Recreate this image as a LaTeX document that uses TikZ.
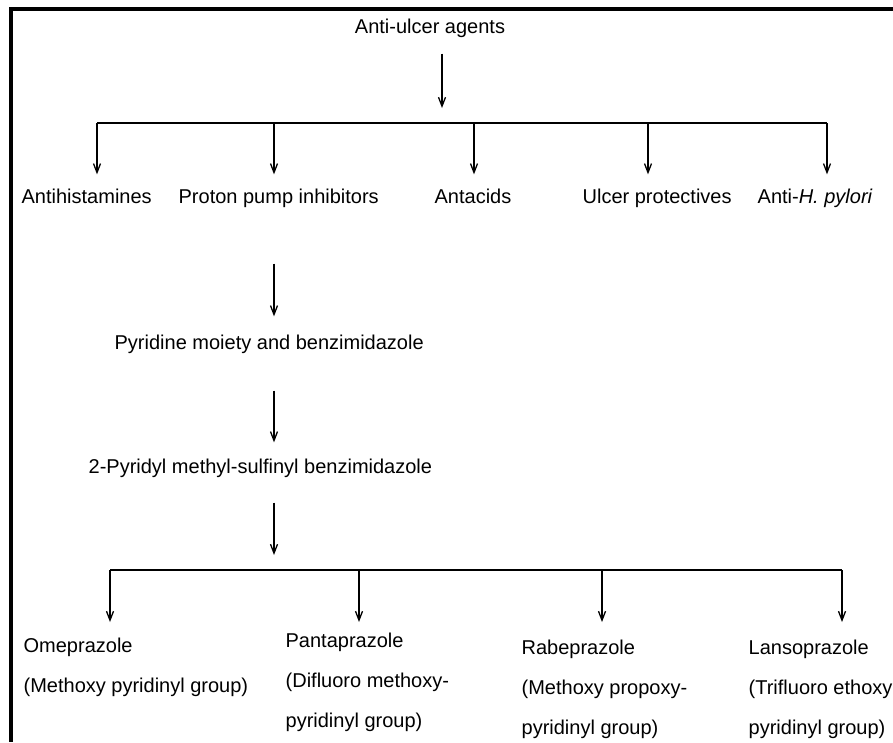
\documentclass[tikz,border=0pt]{standalone}
\usepackage{fontspec}
\setmainfont{Liberation Sans}
\usetikzlibrary{arrows.meta}

\begin{document}
\begin{tikzpicture}[x=1pt, y=-1pt, >={Straight Barb[length=9pt,width=7pt]}, line width=1.3pt,
  word/.style={inner sep=0pt, font=\fontsize{20}{40}\selectfont, text height=15pt, text depth=5pt},
  drug/.style={inner sep=0pt, font=\fontsize{20}{40}\selectfont, align=left, anchor=north west}]
\useasboundingbox (0,0) rectangle (893,742);
\draw[line width=3.5pt] (893,9)--(11,9)--(11,742);

\node[word, anchor=base] (agents) at (430,33){Anti-ulcer agents};
\coordinate (hubA) at (442,123);
\draw[->, shorten <=15pt, shorten >=15pt] (agents.south -| hubA)--(hubA);

% first level
\coordinate (j1) at (97,123);
\coordinate (j2) at (274,123);
\coordinate (j3) at (474,123);
\coordinate (j4) at (648,123);
\coordinate (j5) at (827,123);
\draw (j1)--(j5);
\node[word, anchor=base west] (antihist) at (21,203){Antihistamines};
\node[word, anchor=base west] (ppi) at (178,203){Proton pump inhibitors};
\node[word, anchor=base west] (antacid) at (434,203){Antacids};
\node[word, anchor=base west] (protect) at (582,203){Ulcer protectives};
\node[word, anchor=base west] (antihp) at (757,203){Anti-\textit{H. pylori}};
\foreach \j/\n in {j1/antihist, j2/ppi, j3/antacid, j4/protect, j5/antihp}
  \draw[->, shorten >=13pt] (\j)--(\j |- \n.north);

% chain below the proton pump inhibitors
\coordinate (axis) at (274,0);
\node[word, anchor=base west] (pyr) at (114,349){Pyridine moiety and benzimidazole};
\node[word, anchor=base west] (sulf) at (88,473){2-Pyridyl methyl-sulfinyl benzimidazole};
\coordinate (hubB) at (274,570);
\draw[->, shorten <=55pt, shorten >=17pt] (ppi.south -| axis)--(pyr.north -| axis);
\draw[->, shorten <=36pt, shorten >=15pt] (pyr.south -| axis)--(sulf.north -| axis);
\draw[->, shorten <=24pt, shorten >=15pt] (sulf.south -| axis)--(hubB);

% second level
\coordinate (k1) at (110,570);
\coordinate (k2) at (359,570);
\coordinate (k3) at (602,570);
\coordinate (k4) at (842,570);
\draw (k1)--(k4);
\node[drug] (omep) at (23,637){Omeprazole\\(Methoxy pyridinyl group)};
\node[drug] (panta) at (285,632){Pantaprazole\\(Difluoro methoxy-\\pyridinyl group)};
\node[drug] (rabe) at (521,639){Rabeprazole\\(Methoxy propoxy-\\pyridinyl group)};
\node[drug] (lanso) at (748,639){Lansoprazole\\(Trifluoro ethoxy\\pyridinyl group)};
\foreach \k/\n/\s in {k1/omep/15pt, k2/panta/10pt, k3/rabe/17pt, k4/lanso/17pt}
  \draw[->, shorten >=\s] (\k)--(\k |- \n.north);
\end{tikzpicture}
\end{document}
